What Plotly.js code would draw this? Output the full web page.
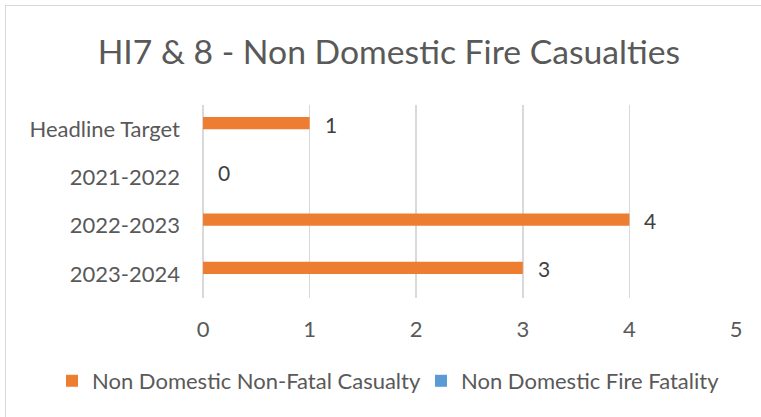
<!DOCTYPE html>
<html>
<head>
<meta charset="utf-8">
<script src="https://cdn.plot.ly/plotly-3.0.1.min.js"></script>
<style>
html,body{margin:0;padding:0;background:#fff;overflow:hidden;}
#frame{position:absolute;left:5px;top:5px;width:800px;height:450px;border:1px solid #d9d9d9;box-sizing:border-box;}
#chart{position:absolute;left:0;top:0;width:761px;height:417px;}
</style>
</head>
<body>
<div id="frame"></div>
<div id="chart"></div>
<script>
var categories = ["Headline Target", "2021-2022", "2022-2023", "2023-2024"];
var nonFatal = [1, 0, 4, 3];
var fatality = [0, 0, 0, 0];
var seriesNames = ["Non Domestic Non-Fatal Casualty", "Non Domestic Fire Fatality"];
var xTicks = [0, 1, 2, 3, 4, 5];

var FONT = "Lato, 'Open Sans', sans-serif";
var TXT = "#595959";

var traces = [
  {type: "bar", orientation: "h", name: seriesNames[0], y: categories, x: nonFatal,
   marker: {color: "#ED7D31"}, hoverinfo: "x+y", legend: "legend"},
  {type: "bar", orientation: "h", name: seriesNames[1], y: categories, x: fatality,
   marker: {color: "#5B9BD5"}, hoverinfo: "x+y", legend: "legend2"}
];

var annotations = categories.map(function(c, i){
  return {x: nonFatal[i], y: c, xref: "x", yref: "y", text: String(nonFatal[i]),
    showarrow: false, xanchor: "left", yanchor: "middle", xshift: 13, yshift: 5,
    font: {family: FONT, size: 21, color: "#404040"}};
});

var legendFont = {family: FONT, size: 22, color: TXT};

var layout = {
  width: 761, height: 417,
  paper_bgcolor: "rgba(0,0,0,0)", plot_bgcolor: "rgba(0,0,0,0)",
  margin: {l: 203, r: 25, t: 105, b: 119, pad: 0, autoexpand: false},
  title: {text: "HI7 &amp; 8 - Non Domestic Fire Casualties", x: 0.511, xref: "container",
    y: 0.875, yref: "container", yanchor: "middle",
    font: {family: FONT, size: 33.7, color: TXT}},
  barmode: "group", bargap: 0.5, bargroupgap: 0,
  xaxis: {range: [0, 5], tickvals: xTicks, showgrid: true, gridcolor: "#d9d9d9", gridwidth: 1.5,
    zeroline: true, zerolinecolor: "#d9d9d9", zerolinewidth: 1.5, showline: false,
    ticks: "", ticklabelstandoff: 16, tickfont: {family: FONT, size: 22, color: TXT}, fixedrange: true},
  yaxis: {type: "category", categoryorder: "array", categoryarray: categories, autorange: "reversed",
    showgrid: false, zeroline: false, showline: false, ticks: "", ticklabelstandoff: 22,
    tickfont: {family: FONT, size: 22, color: TXT}, fixedrange: true},
  showlegend: true,
  legend: {orientation: "h", x: (52 - 203) / 533, xanchor: "left", y: -0.43, yanchor: "middle",
    font: legendFont, itemwidth: 30, bgcolor: "rgba(0,0,0,0)"},
  legend2: {orientation: "h", x: (421 - 203) / 533, xanchor: "left", y: -0.43, yanchor: "middle",
    font: legendFont, itemwidth: 30, bgcolor: "rgba(0,0,0,0)"},
  annotations: annotations
};

Plotly.newPlot("chart", traces, layout, {displayModeBar: false, staticPlot: true});
</script>
</body>
</html>
